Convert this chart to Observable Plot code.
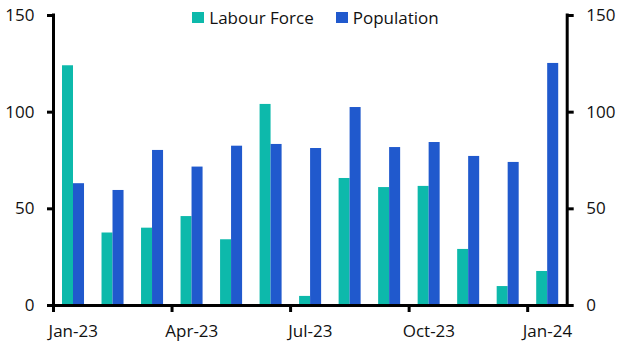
<!DOCTYPE html>
<html>
<head>
<meta charset="utf-8">
<script src="https://cdn.jsdelivr.net/npm/d3@7"></script>
<script src="https://cdn.jsdelivr.net/npm/@observablehq/plot@0.6"></script>
<style>
  html, body { margin: 0; padding: 0; background: #fff; }
  #wrap { position: relative; width: 631px; height: 357px; font-family: "Open Sans", sans-serif; }
  #legend { position: absolute; top: 6px; left: 0; width: 631px; display: flex; justify-content: center; gap: 22px; font-size: 17px; color: #111; }
  #legend span.item { display: inline-flex; align-items: center; }
  #legend span.sw { display: inline-block; width: 12px; height: 11px; margin-right: 5px; }
</style>
</head>
<body>
<div id="wrap"><div id="legend"></div></div>
<script>
const months = ["Jan-23","Feb-23","Mar-23","Apr-23","May-23","Jun-23","Jul-23","Aug-23","Sep-23","Oct-23","Nov-23","Dec-23","Jan-24"];
const labourForce = [124, 37.5, 40, 46, 34, 104, 4.7, 65.7, 61, 61.6, 29, 9.8, 17.6];
const population = [63, 59.5, 80.2, 71.6, 82.4, 83.3, 81.2, 102.4, 81.7, 84.3, 77.1, 74, 125.2];
const seriesNames = ["Labour Force", "Population"];
const colors = ["#0db9ab", "#2059cd"];
const yTicks = [0, 50, 100, 150];
const labelMonths = ["Jan-23", "Apr-23", "Jul-23", "Oct-23", "Jan-24"];

const rows = [];
months.forEach((m, i) => {
  rows.push({i, month: m, series: seriesNames[0], value: labourForce[i]});
  rows.push({i, month: m, series: seriesNames[1], value: population[i]});
});
const off = {"Labour Force": [0.228, 0.506], "Population": [0.506, 0.785]};
const tickIdx = labelMonths.map(m => months.indexOf(m));

const font = "Open Sans, sans-serif";
const chart = Plot.plot({
  width: 631,
  height: 357,
  marginLeft: 53,
  marginRight: 64.3,
  marginTop: 15,
  marginBottom: 52,
  style: {fontFamily: font, fontSize: "17px", color: "#111", background: "transparent"},
  x: {domain: [0, months.length], label: null},
  y: {domain: [0, 150], label: null},
  color: {domain: seriesNames, range: colors},
  marks: [
    Plot.rectY(rows, {
      x1: d => d.i + off[d.series][0],
      x2: d => d.i + off[d.series][1],
      y1: 0,
      y2: "value",
      fill: "series"
    }),
    Plot.ruleY([0], {strokeWidth: 3, stroke: "#000", strokeLinecap: "square"}),
    Plot.ruleX([0, months.length], {y1: 0, y2: 150, strokeWidth: 3, stroke: "#000", strokeLinecap: "square"}),
    Plot.axisY(yTicks, {anchor: "left", label: null, tickSize: 6, tickPadding: 13, strokeWidth: 3, stroke: "#000", fontSize: 17, fill: "#111"}),
    Plot.axisY(yTicks, {anchor: "right", label: null, tickSize: 6, tickPadding: 13, strokeWidth: 3, stroke: "#000", fontSize: 17, fill: "#111"}),
    Plot.axisX(tickIdx, {tickSize: 7, tickFormat: () => "", strokeWidth: 3, stroke: "#000", label: null}),
    Plot.axisX(tickIdx.map(i => i + 0.5), {tickSize: 0, tickPadding: 19, tickFormat: v => months[Math.floor(v)], fontSize: 17, fill: "#111", label: null})
  ]
});
const wrap = document.getElementById("wrap");
wrap.appendChild(chart);
chart.style.position = "absolute";
chart.style.left = "0";
chart.style.top = "0";

const legend = document.getElementById("legend");
seriesNames.forEach((s, k) => {
  const item = document.createElement("span");
  item.className = "item";
  const sw = document.createElement("span");
  sw.className = "sw";
  sw.style.background = colors[k];
  item.appendChild(sw);
  item.appendChild(document.createTextNode(s));
  legend.appendChild(item);
});
wrap.appendChild(legend);
</script>
</body>
</html>
